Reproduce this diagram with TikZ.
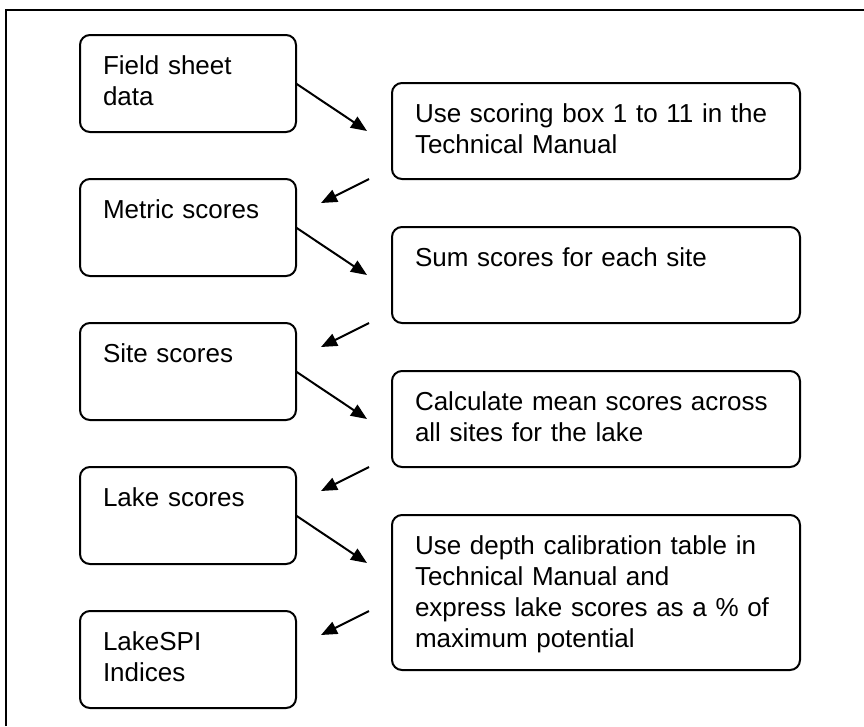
\documentclass[tikz,border=0pt]{standalone}
\usepackage{fontspec}
\setmainfont{Liberation Sans}
\usetikzlibrary{positioning,calc,arrows.meta}

\tikzset{
  resultbox/.style={draw, line width=2pt, rounded corners=10pt, anchor=north west,
    outer sep=0pt, text width=170pt, align=left, inner xsep=23pt, inner ysep=21pt,
    text height=18pt, text depth=37pt, font=\fontsize{26pt}{31pt}\selectfont},
  taskbox/.style={resultbox, text width=362pt, text depth=36pt},
  flow/.style={line width=2pt, -{Triangle[length=16pt,width=13pt]}}
}

\begin{document}
\begin{tikzpicture}
    \useasboundingbox (0,0) rectangle (864pt,-726pt);
    \draw [line width=2pt] (6pt,-726pt) -- (6pt,-10pt) -- (864pt,-10pt);

    \node(r1) [resultbox] at (80pt,-35pt)       {Field sheet\\data};
    \node(r2) [resultbox, below=47pt of r1]     {Metric scores};
    \node(r3) [resultbox, below=47pt of r2]     {Site scores};
    \node(r4) [resultbox, below=47pt of r3]     {Lake scores};
    \node(r5) [resultbox, below=47pt of r4]     {LakeSPI\\Indices};

    \node(t1) [taskbox, below right=48pt and 96pt of r1.north east] {Use scoring box 1 to 11 in the\\Technical Manual};
    \node(t2) [taskbox, below=48pt of t1]       {Sum scores for each site};
    \node(t3) [taskbox, below=48pt of t2]       {Calculate mean scores across\\all sites for the lake};
    \node(t4) [taskbox, text depth=95pt, below=48pt of t3] {Use depth calibration table in\\Technical Manual and\\express lake scores as a \% of\\maximum potential};

    \coordinate (a1) at ($(r1.south east)+(71pt,1pt)$);
    \coordinate (a2) at ($(r2.south east)+(71pt,1pt)$);
    \coordinate (a3) at ($(r3.south east)+(71pt,1pt)$);
    \coordinate (a4) at ($(r4.south east)+(71pt,1pt)$);
    \coordinate (b2) at ($(r2.north east)+(73pt,0)$);
    \coordinate (b3) at ($(r3.north east)+(73pt,0)$);
    \coordinate (b4) at ($(r4.north east)+(73pt,0)$);
    \coordinate (b5) at ($(r5.north east)+(73pt,0)$);
    \coordinate (c2) at ($(r2.north east)+(25pt,-24pt)$);
    \coordinate (c3) at ($(r3.north east)+(25pt,-24pt)$);
    \coordinate (c4) at ($(r4.north east)+(25pt,-24pt)$);
    \coordinate (c5) at ($(r5.north east)+(25pt,-24pt)$);

    \draw [flow] (r1.east) to (a1);
    \draw [flow] (b2) to (c2);
    \draw [flow] (r2.east) to (a2);
    \draw [flow] (b3) to (c3);
    \draw [flow] (r3.east) to (a3);
    \draw [flow] (b4) to (c4);
    \draw [flow] (r4.east) to (a4);
    \draw [flow] (b5) to (c5);

\end{tikzpicture}
\end{document}
